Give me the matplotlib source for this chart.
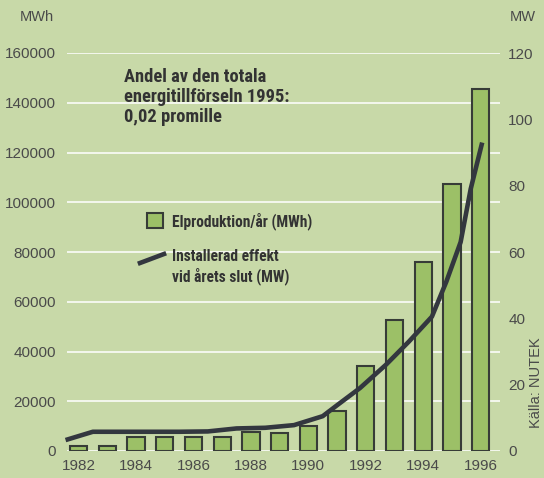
import matplotlib.pyplot as plt
from matplotlib.patches import Rectangle
from matplotlib.lines import Line2D

# elproduktion per år (MWh)
years = [1982, 1983, 1984, 1985, 1986, 1987, 1988, 1989, 1990,
         1991, 1992, 1993, 1994, 1995, 1996]
mwh = [1900, 2200, 5600, 5600, 5600, 5600, 7600, 7400, 10000,
       16000, 34000, 52500, 76000, 107400, 145500]

# installerad effekt vid årets slut (MW), avläst längs kurvan
mw_x = [1981.55, 1982.5, 1983.5, 1984.5, 1985.5, 1986.5, 1987.5, 1988.5,
        1989.5, 1990.5, 1991.0, 1991.8, 1992.7, 1993.5, 1994.3, 1994.8,
        1995.3, 1995.65, 1996.05]
mw = [3.3, 5.8, 5.8, 5.8, 5.8, 5.9, 6.8, 7.0, 7.8, 10.5, 13.8, 19, 26,
      33, 40.5, 51, 63, 79, 93]

left_ticks = [0, 20000, 40000, 60000, 80000, 100000, 120000, 140000, 160000]
right_ticks = [0, 20, 40, 60, 80, 100, 120]
year_ticks = [1982, 1984, 1986, 1988, 1990, 1992, 1994, 1996]

plt.rcParams['font.family'] = ['Liberation Sans', 'DejaVu Sans']

bg = '#c8d9a8'
txt = '#4a4a4a'
bar_col = '#9cc067'
edge_col = '#373c37'
line_col = '#33373f'
narrow = ['Roboto Condensed', 'Liberation Sans Narrow', 'DejaVu Sans']
W, H = 544, 478


def fx(x):
    return x / W


def fy(y):
    return 1 - y / H


fig = plt.figure(figsize=(5.44, 4.78), dpi=100, facecolor=bg)
ax = fig.add_axes([67 / W, 27 / H, 433 / W, 398 / H])
ax.set_facecolor(bg)

ax.bar(years, mwh, width=0.6, color=bar_col, edgecolor=edge_col,
       linewidth=1.5, zorder=3)
ax.set_xlim(1981.6, 1996.67)
ax.set_ylim(0, 160000)
ax.set_yticks(left_ticks)
ax.set_xticks(year_ticks)
ax.grid(axis='y', color='white', linewidth=1.3, alpha=0.85, zorder=0)
ax.set_axisbelow(True)
for s in ax.spines.values():
    s.set_visible(False)
ax.tick_params(length=0, colors=txt, labelsize=11)
ax.tick_params(axis='y', pad=8)
ax.tick_params(axis='x', pad=6)

ax2 = ax.twinx()
ax2.plot(mw_x, mw, color=line_col, linewidth=3.3, solid_capstyle='butt',
         zorder=4, clip_on=False)
ax2.set_ylim(0, 120)
ax2.set_yticks(right_ticks)
for s in ax2.spines.values():
    s.set_visible(False)
ax2.tick_params(length=0, colors=txt, labelsize=11, pad=6)

fig.text(fx(20), fy(17), 'MWh', color=txt, fontsize=10.5, va='center')
fig.text(fx(510), fy(17), 'MW', color=txt, fontsize=10.5, va='center')
fig.text(fx(536), fy(383), 'Källa: NUTEK', color=txt, fontsize=10.5,
         rotation=90, ha='center', va='center')

fig.text(fx(124), fy(97),
         'Andel av den totala\nenergitillförseln 1995:\n0,02 promille',
         color='#333333', fontsize=13.3, fontweight='bold', family=narrow,
         fontstretch='condensed', va='center', ha='left', linespacing=1.17)

# förklaring
fig.add_artist(Rectangle((fx(147), fy(228)), 16 / W, 15 / H,
                         facecolor=bar_col, edgecolor=edge_col,
                         linewidth=1.5, transform=fig.transFigure))
fig.text(fx(172), fy(221), 'Elproduktion/år (MWh)', color='#333333',
         fontsize=11.2, fontweight='bold', family=narrow,
         fontstretch='condensed', va='center', ha='left')
fig.add_artist(Line2D([fx(140), fx(164)], [fy(263), fy(254)],
                      color=line_col, linewidth=3.3,
                      transform=fig.transFigure))
fig.text(fx(172), fy(267), 'Installerad effekt\nvid årets slut (MW)',
         color='#333333', fontsize=11.2, fontweight='bold', family=narrow,
         fontstretch='condensed', va='center', ha='left', linespacing=1.28)

fig.savefig('out.png', dpi=100, facecolor=bg)
